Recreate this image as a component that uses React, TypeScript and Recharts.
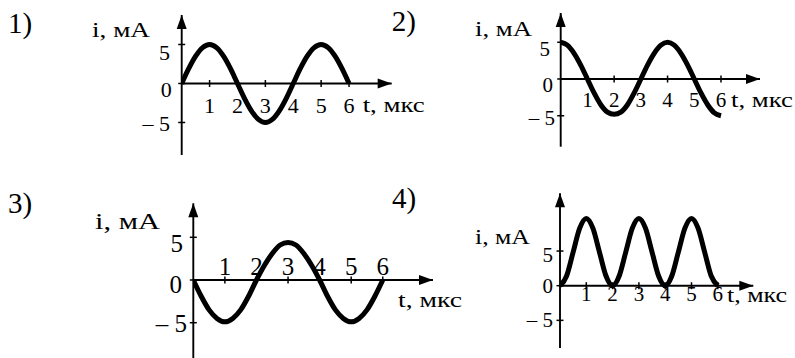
import React from 'react';
import { LineChart, Line, XAxis, YAxis, ReferenceLine, ReferenceDot } from 'recharts';

// ---- data ----
const tValues = [0, 0.25, 0.5, 0.75, 1, 1.25, 1.5, 1.75, 2, 2.25, 2.5, 2.75, 3, 3.25, 3.5, 3.75, 4, 4.25, 4.5, 4.75, 5, 5.25, 5.5, 5.75, 6];
const current1 = [0, 1.9, 3.5, 4.6, 5, 4.6, 3.5, 1.9, 0, -1.9, -3.5, -4.6, -5, -4.6, -3.5, -1.9, 0, 1.9, 3.5, 4.6, 5, 4.6, 3.5, 1.9, 0];
const current2 = [5, 4.6, 3.5, 1.9, 0, -1.9, -3.5, -4.5, -4.8, -4.5, -3.5, -1.9, 0, 1.9, 3.5, 4.6, 5, 4.6, 3.5, 1.9, 0, -1.9, -3.5, -4.6, -5];
const current3 = [0, -1.9, -3.5, -4.5, -4.9, -4.5, -3.5, -1.9, 0, 1.7, 3.1, 4.1, 4.4, 4.1, 3.1, 1.7, 0, -1.9, -3.5, -4.5, -4.9, -4.5, -3.5, -1.9, 0];
const current4 = [0, 1.4, 4.85, 8.3, 9.7, 8.3, 4.85, 1.4, 0, 1.4, 4.85, 8.3, 9.7, 8.3, 4.85, 1.4, 0, 1.4, 4.85, 8.3, 9.7, 8.3, 4.85, 1.4, 0];

const xTickValues = [1, 2, 3, 4, 5, 6];
const xTickLabels = ['1', '2', '3', '4', '5', '6'];
const yTickValues = [-5, 0, 5];
const yTickLabels = ['– 5', '0', '5'];
const panelNames = ['1)', '2)', '3)', '4)'];
const xAxisTitle = 't, мкс';
const yAxisTitle = 'i, мА';

// ---- layout / style ----
const W = 795;
const H = 370;
const YW = 30;
const FONT = "'Liberation Serif', 'Times New Roman', 'DejaVu Serif', serif";

type Panel = {
  series: number[];
  plot: { left: number; right: number; top: number; bottom: number };
  xMax: number;
  yMin: number;
  yMax: number;
  tickFont: number;
  xLabelDy: number;
  yDx: Record<string, number>;
  yDy: Record<string, number>;
  name: { x: number; y: number };
  yTitle: { x: number; y: number; w: number; f: number };
  xTitle: { x: number; y: number; w: number; f: number };
};

const panels: Panel[] = [
  {
    series: current1,
    plot: { left: 181.7, right: 391.7, top: 15, bottom: 155 },
    xMax: 7.53, yMin: -9.17, yMax: 8.78, tickFont: 22, xLabelDy: 29.5,
    yDx: { '5': 11.7, '0': 10, '-5': 11.7 }, yDy: { '5': 8, '0': 6.5, '-5': 1.5 },
    name: { x: 8, y: 33 },
    yTitle: { x: 92, y: 37, w: 58, f: 21 },
    xTitle: { x: 362.7, y: 111.7, w: 62, f: 22 },
  },
  {
    series: current2,
    plot: { left: 560.7, right: 760, top: 13, bottom: 146.7 },
    xMax: 7.46, yMin: -9.21, yMax: 8.98, tickFont: 21, xLabelDy: 27.5,
    yDx: { '5': 10.7, '0': 7.7, '-5': 5.7 }, yDy: { '5': 6.3, '0': 6, '-5': 2 },
    name: { x: 391.7, y: 31 },
    yTitle: { x: 475, y: 36, w: 57, f: 21 },
    xTitle: { x: 731, y: 106.5, w: 62, f: 22 },
  },
  {
    series: current3,
    plot: { left: 193.3, right: 433, top: 203.3, bottom: 362 },
    xMax: 7.59, yMin: -9.6, yMax: 8.98, tickFont: 25, xLabelDy: -5.5,
    yDx: { '5': 10.3, '0': 11.3, '-5': 6.3 }, yDy: { '5': 6.7, '0': 4.5, '-5': 1.3 },
    name: { x: 8, y: 213 },
    yTitle: { x: 95, y: 229, w: 65, f: 23 },
    xTitle: { x: 398, y: 307, w: 64, f: 22 },
  },
  {
    series: current4,
    plot: { left: 560, right: 753.3, top: 193.3, bottom: 348 },
    xMax: 7.35, yMin: -8.99, yMax: 13.33, tickFont: 21, xLabelDy: 15.8,
    yDx: { '5': 7, '0': 7, '-5': 7 }, yDy: { '5': 4.3, '0': 0, '-5': 0 },
    name: { x: 392, y: 208 },
    yTitle: { x: 475, y: 244, w: 55, f: 21 },
    xTitle: { x: 727, y: 301.5, w: 60, f: 21 },
  },
];

const AXIS_W = 1.9;

function makeYTick(p: Panel) {
  return (props: any) => {
    const { x, y, payload } = props;
    const v = payload.value as number;
    const idx = yTickValues.indexOf(v);
    const label = idx >= 0 ? yTickLabels[idx] : String(v);
    const key = String(v);
    const dx = p.yDx[key] ?? 9;
    const dy = (p.yDy[key] ?? 4) + 0.338 * p.tickFont;
    return (
      <g>
        <line x1={x - 3.5} x2={x + 3.5} y1={y} y2={y} stroke="#000" strokeWidth={1.5} />
        <text x={x - dx} y={y + dy} textAnchor="end" style={{ fontFamily: FONT, fontSize: p.tickFont }} fill="#000">
          {label}
        </text>
      </g>
    );
  };
}

function PanelChart({ p }: { p: Panel }) {
  const data = tValues.map((t, k) => ({ t, i: p.series[k] }));
  const margin = {
    left: p.plot.left - YW,
    right: W - p.plot.right,
    top: p.plot.top,
    bottom: H - p.plot.bottom,
  };
  return (
    <div style={{ position: 'absolute', left: 0, top: 0 }}>
      <LineChart width={W} height={H} data={data} margin={margin}>
        <XAxis type="number" dataKey="t" domain={[0, p.xMax]} hide allowDataOverflow />
        <YAxis
          type="number"
          width={YW}
          domain={[p.yMin, p.yMax]}
          ticks={yTickValues}
          interval={0}
          allowDataOverflow
          tickSize={0}
          tickMargin={0}
          tickLine={false}
          axisLine={{ stroke: '#000', strokeWidth: AXIS_W }}
          tick={makeYTick(p)}
        />
        <ReferenceLine y={0} stroke="#000" strokeWidth={AXIS_W} ifOverflow="visible" />
        {xTickValues.map((t, k) => (
          <ReferenceDot
            key={'xt' + t}
            x={t}
            y={0}
            ifOverflow="visible"
            shape={(d: any) => (
              <g>
                <line x1={d.cx} x2={d.cx} y1={d.cy - 3.5} y2={d.cy + 3.5} stroke="#000" strokeWidth={1.5} />
                <text x={d.cx} y={d.cy + p.xLabelDy} textAnchor="middle" style={{ fontFamily: FONT, fontSize: p.tickFont }} fill="#000">
                  {xTickLabels[k]}
                </text>
              </g>
            )}
          />
        ))}
        <ReferenceDot
          x={p.xMax}
          y={0}
          ifOverflow="visible"
          shape={(d: any) => (
            <path d={`M${d.cx},${d.cy} L${d.cx - 14},${d.cy - 5} L${d.cx - 14},${d.cy + 5} Z`} fill="#000" />
          )}
        />
        <ReferenceDot
          x={0}
          y={p.yMax}
          ifOverflow="visible"
          shape={(d: any) => (
            <path d={`M${d.cx},${d.cy} L${d.cx - 5},${d.cy + 14} L${d.cx + 5},${d.cy + 14} Z`} fill="#000" />
          )}
        />
        <Line
          type="monotone"
          dataKey="i"
          stroke="#000"
          strokeWidth={5}
          dot={false}
          activeDot={false}
          isAnimationActive={false}
        />
      </LineChart>
    </div>
  );
}

export default function App() {
  return (
    <div style={{ position: 'absolute', left: 0, top: 0, width: 795, height: 358, overflow: 'hidden', background: '#fff' }}>
      {panels.map((p, k) => (
        <PanelChart key={k} p={p} />
      ))}
      <svg width={795} height={358} style={{ position: 'absolute', left: 0, top: 0, pointerEvents: 'none' }}>
        {panels.map((p, k) => (
          <g key={k} fill="#000" style={{ fontFamily: FONT }}>
            <text x={p.name.x} y={p.name.y} style={{ fontFamily: FONT, fontSize: 29 }}>{panelNames[k]}</text>
            <text x={p.yTitle.x} y={p.yTitle.y} style={{ fontFamily: FONT, fontSize: p.yTitle.f }} textLength={p.yTitle.w} lengthAdjust="spacingAndGlyphs">
              {yAxisTitle}
            </text>
            <text x={p.xTitle.x} y={p.xTitle.y} style={{ fontFamily: FONT, fontSize: p.xTitle.f }} textLength={p.xTitle.w} lengthAdjust="spacingAndGlyphs">
              {xAxisTitle}
            </text>
          </g>
        ))}
      </svg>
    </div>
  );
}
